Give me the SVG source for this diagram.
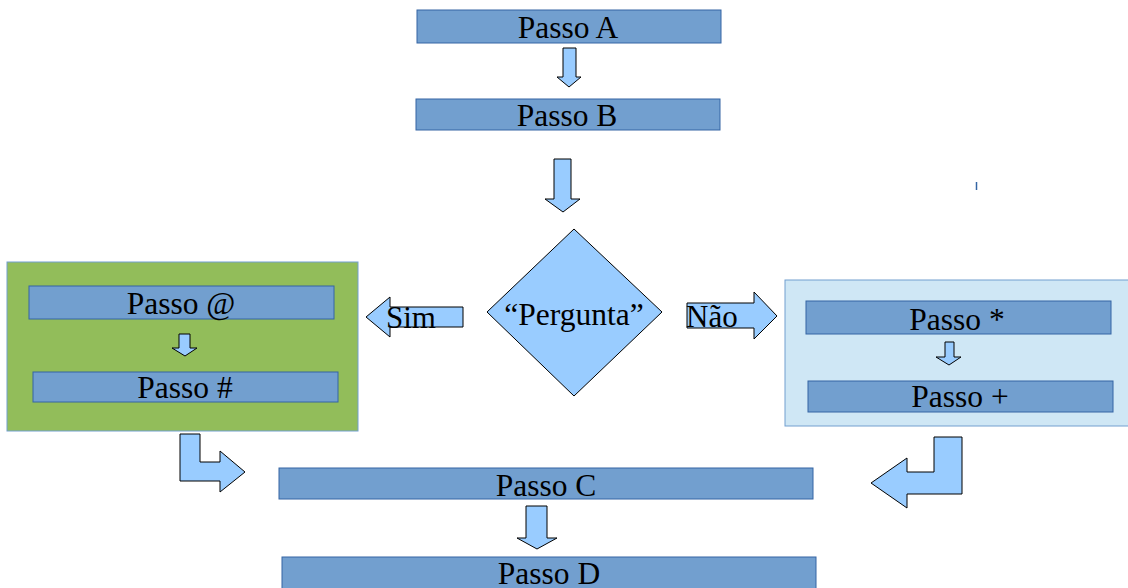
<svg xmlns="http://www.w3.org/2000/svg" width="1128" height="588" viewBox="0 0 1128 588">
<style>
.step{fill:#729fcf;stroke:#3465a4;stroke-width:1}
.arr{fill:#99ccff;stroke:#000;stroke-width:1;stroke-linejoin:miter}
.t{font-family:"Liberation Serif","Times New Roman",serif;font-size:31.5px;fill:#000;text-anchor:middle}
.tl{font-family:"Liberation Serif","Times New Roman",serif;font-size:31px;fill:#000}
</style>
<rect width="1128" height="588" fill="#fff"/>
<g id="group-left">
<rect x="7" y="262" width="351" height="169" fill="#92bd5a" stroke="#729fcf" stroke-width="1"/>
</g>
<g id="group-right">
<rect x="785" y="280" width="345" height="146" fill="#cfe7f5" stroke="#729fcf" stroke-width="1"/>
</g>
<g id="connectors">
<polygon class="arr" points="563,48 576,48 576,77 581,77 569,87 557,77 563,77"/>
<polygon class="arr" points="554,159 571,159 571,199 580,199 563,212 545,199 554,199"/>
<polygon class="arr" points="463,307 463,327 390,327 390,337 366,317 390,297 390,307"/>
<polygon class="arr" points="687,303 754,303 754,292 777,316 754,339 754,328 687,328"/>
<polygon class="arr" points="179,334 190,334 190,348 197,348 185,356 172,348 179,348"/>
<polygon class="arr" points="945,342 954,342 954,357 961,357 949,365 936,357 945,357"/>
<polygon class="arr" points="180,434 200,434 200,462 220,462 220,451 245,472 220,492 220,481 180,481"/>
<polygon class="arr" points="934,437 962,437 962,494 907,494 907,508 871,483 907,458 907,472 934,472"/>
<polygon class="arr" points="526,506 547,506 547,538 557,538 537,549 517,538 526,538"/>
<line x1="976.5" y1="182" x2="976.5" y2="190" stroke="#3465a4" stroke-width="1.5"/>
</g>
<g id="passo-a"><rect class="step" x="417" y="10" width="304" height="33"/><text class="t" x="568" y="38">Passo A</text></g>
<g id="passo-b"><rect class="step" x="416" y="99" width="304" height="31"/><text class="t" x="567" y="126">Passo B</text></g>
<g id="pergunta"><polygon points="574,229 662,312 574,396 487,312" fill="#99ccff" stroke="#000" stroke-width="1"/><text class="t" x="574" y="325">“Pergunta”</text></g>
<g id="sim"><text class="tl" x="386" y="328">Sim</text></g>
<g id="nao"><text class="tl" x="686" y="327">Não</text></g>
<g id="passo-at"><rect class="step" x="29" y="286" width="305" height="33"/><text class="t" x="181" y="314">Passo @</text></g>
<g id="passo-hash"><rect class="step" x="33" y="372" width="305" height="30"/><text class="t" x="185" y="398">Passo #</text></g>
<g id="passo-star"><rect class="step" x="806" y="301" width="305" height="33"/><text class="t" x="957" y="330">Passo *</text></g>
<g id="passo-plus"><rect class="step" x="808" y="381" width="305" height="31"/><text class="t" x="960" y="407">Passo +</text></g>
<g id="passo-c"><rect class="step" x="279" y="468" width="534" height="31"/><text class="t" x="546" y="496">Passo C</text></g>
<g id="passo-d"><rect class="step" x="282" y="557" width="534" height="35"/><text class="t" x="549" y="584">Passo D</text></g>
</svg>
